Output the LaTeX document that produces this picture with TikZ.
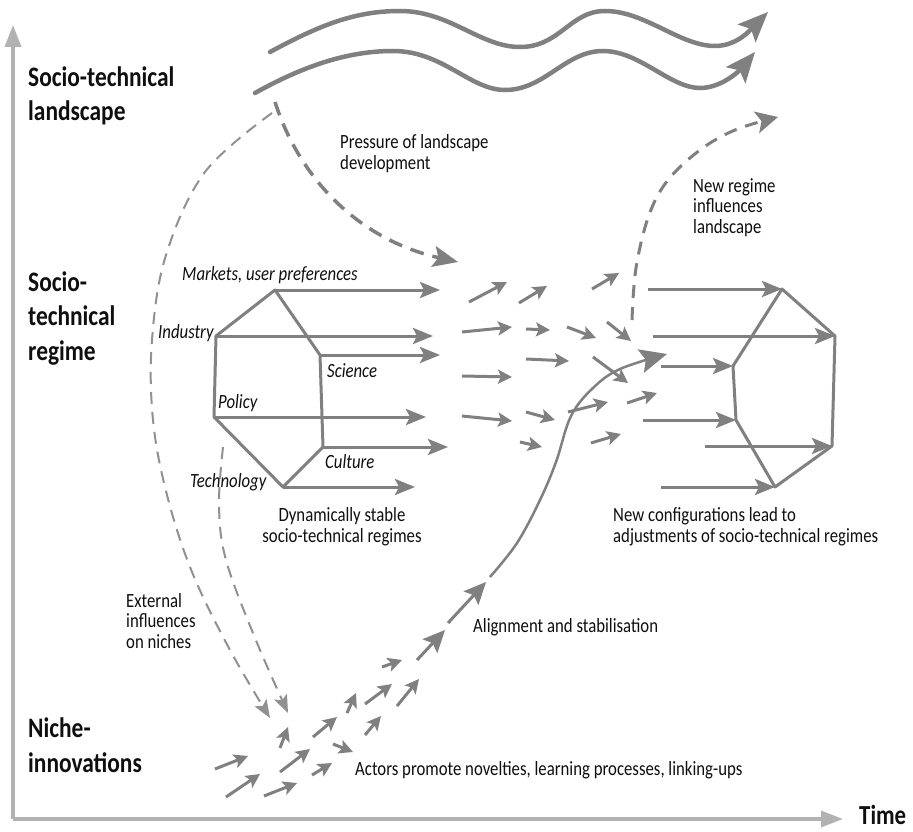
\documentclass[tikz,border=0pt]{standalone}
\usepackage{fontspec}
\setmainfont{Carlito}[FakeStretch=0.83]
\usetikzlibrary{arrows.meta}
\definecolor{ln}{RGB}{128,128,128}
\definecolor{lnl}{RGB}{145,145,145}
\definecolor{ax}{RGB}{178,178,178}
\definecolor{tx}{RGB}{15,15,15}
\begin{document}
\begin{tikzpicture}[x=1pt,y=-1pt,
  head/.style={font=\fontsize{28.2}{34.5}\selectfont\bfseries, text=tx, align=left, anchor=base west, inner sep=0pt},
  timelbl/.style={font=\fontsize{27.5}{30}\selectfont\bfseries, text=tx, anchor=base west, inner sep=0pt},
  lbl/.style={font=\fontsize{20.2}{20.5}\selectfont, text=tx, align=left, anchor=base west, inner sep=0pt},
  ilbl/.style={lbl, font=\fontsize{20.2}{20.5}\selectfont\itshape},
  axis/.style={ax, line width=3.5pt, -{Triangle[length=22pt,width=16pt]}},
  wave/.style={ln, line width=4.5pt, line cap=round, -{Stealth[length=30pt,width=25pt,inset=6pt]}},
  reg/.style={ln, line width=3pt, -{Stealth[length=20pt,width=16pt,inset=4pt]}},
  hex/.style={ln, line width=3pt, line join=round},
  sm/.style={ln, line width=3pt, -{Stealth[length=14pt,width=14pt,inset=3pt]}},
  bigch/.style={ln, line width=3pt, -{Stealth[length=22pt,width=20pt,inset=4pt]}},
  press/.style={ln, line width=3.5pt, dash pattern=on 14pt off 9pt, -{Stealth[length=25pt,width=21pt,inset=5pt]}},
  extd/.style={lnl, line width=2pt, dash pattern=on 12pt off 8pt, -{Stealth[length=18pt,width=14pt,inset=4pt]}},
  alignarr/.style={ln, line width=2.5pt, -{Stealth[length=27pt,width=24pt,inset=5pt]}}
]
\useasboundingbox (0,0) rectangle (913,832);
\fill[white] (0,0) rectangle (913,832);

% axes
\coordinate (O) at (13,819);
\coordinate (Ytop) at (13,25);
\coordinate (Xend) at (843,819);
\draw[axis] (O) -- (Ytop);
\draw[axis] (O) -- (Xend);
\node[timelbl] (time) at (859,824) {Time};

% headings (base anchor = baseline of last line)
\node[head] (land) at (28,121) {Socio-technical\\landscape};
\node[head] (regime) at (28,360) {Socio-\\technical\\regime};
\node[head] (niche) at (28,772) {Niche-\\innovations};

% landscape waves
\draw[wave] (270,52) .. controls (320,25) and (355,11) .. (400,11)
  .. controls (450,11) and (480,47) .. (520,47)
  .. controls (560,47) and (570,11) .. (605,11)
  .. controls (645,11) and (680,46) .. (715,46)
  .. controls (738,46) and (752,28) .. (768,12);
\draw[wave] (255,93) .. controls (300,68) and (345,51) .. (393,51)
  .. controls (443,51) and (470,90) .. (505,90)
  .. controls (545,90) and (565,51) .. (603,51)
  .. controls (640,51) and (670,88) .. (700,88)
  .. controls (722,88) and (740,70) .. (755,52);

% pressure of landscape
\draw[press] (275,102) .. controls (300,180) and (360,240) .. (458,262);
\node[lbl] (press) at (340,169) {Pressure of landscape\\development};

% external influences (dashed)
\draw[extd] plot[smooth, tension=0.6] coordinates {(272,113) (205,172) (166,255) (152,340) (153,420) (167,495) (192,572) (230,650) (270,718)};
\draw[extd] plot[smooth, tension=0.6] coordinates {(223,447) (219,505) (226,560) (255,638) (288,713)};
\node[lbl] (ext) at (126,648) {External\\influences\\on niches};

% left regime hexagon
\coordinate (L1) at (275,290);
\coordinate (L2) at (216,336);
\coordinate (L3) at (214,417);
\coordinate (L4) at (283,487);
\coordinate (L5) at (323,447);
\coordinate (L6) at (320,355);
\draw[hex] (L1) -- (L2) -- (L3) -- (L4) -- (L5) -- (L6) -- cycle;
\coordinate (L1e) at (440,290);
\coordinate (L2e) at (433,336);
\coordinate (L6e) at (440,355);
\coordinate (L3e) at (426,417);
\coordinate (L5e) at (448,447);
\coordinate (L4e) at (415,487);
\draw[reg] (L1) -- (L1e);
\draw[reg] (L2) -- (L2e);
\draw[reg] (L6) -- (L6e);
\draw[reg] (L3) -- (L3e);
\draw[reg] (L5) -- (L5e);
\draw[reg] (L4) -- (L4e);
\node[ilbl] (markets) at (182,280) {Markets, user preferences};
\node[ilbl] (industry) at (158,338) {Industry};
\node[ilbl] (science) at (327,377) {Science};
\node[ilbl] (policy) at (218,408) {Policy};
\node[ilbl] (culture) at (325,468) {Culture};
\node[ilbl] (technology) at (190,487) {Technology};
\node[lbl, anchor=base, align=center] (stable) at (342,542) {Dynamically stable\\socio-technical regimes};

% field of small arrows
\foreach \a/\b/\c/\d in {469/302/507/282, 519/303/547/286, 592/289/619/273,
  462/332/512/327, 526/329/550/330, 567/327/596/338, 607/322/631/341,
  526/359/569/361, 593/357/628/383, 462/376/512/377, 462/416/512/421,
  526/412/555/420, 568/412/608/402, 627/403/657/393, 520/442/542/447,
  591/443/621/434}
  \draw[sm] (\a,\b) -- (\c,\d);

% niche arrows
\foreach \a/\b/\c/\d in {382/667/402/660, 365/704/392/684, 397/706/419/679,
  347/713/356/693, 313/737/337/717, 365/735/381/716, 280/748/288/727,
  280/772/310/749, 333/744/353/752, 312/775/332/763, 215/769/248/756,
  226/797/260/774, 264/796/297/783}
  \draw[sm] (\a,\b) -- (\c,\d);
\coordinate (c1) at (417,660);
\coordinate (c2) at (445,630);
\coordinate (c3) at (448,623);
\coordinate (c4) at (486,582);
\draw[bigch] (c1) -- (c2);
\draw[bigch] (c3) -- (c4);
\node[lbl] (actors) at (355,775) {Actors promote novelties, learning processes, linking-ups};

% alignment curve
\draw[alignarr] plot[smooth, tension=0.6] coordinates {(490,577) (517,543) (540,500) (556,462) (571,416) (593,388) (620,369) (667,354)};
\node[lbl] (alignlbl) at (473,632) {Alignment and stabilisation};

% new regime influences landscape
\draw[press, line width=3pt, dash pattern=on 13pt off 9pt, -{Stealth[length=22pt,width=22pt,inset=5pt]}]
  plot[smooth, tension=0.6] coordinates {(632,320) (636,268) (649,215) (668,180) (700,150) (735,130) (778,117)};
\node[lbl] (newreg) at (693,233) {New regime\\influences\\landscape};

% right regime hexagon
\coordinate (R1) at (782,289);
\coordinate (R2) at (835,336);
\coordinate (R3) at (832,446);
\coordinate (R4) at (775,487);
\coordinate (R5) at (736,420);
\coordinate (R6) at (733,366);
\draw[hex] (R1) -- (R2) -- (R3) -- (R4) -- (R5) -- (R6) -- cycle;
\coordinate (R1s) at (648,289);
\coordinate (R2s) at (653,336);
\coordinate (R6s) at (661,366);
\coordinate (R5s) at (643,420);
\coordinate (R3s) at (705,446);
\coordinate (R4s) at (661,487);
\draw[reg] (R1s) -- (R1);
\draw[reg] (R2s) -- (R2);
\draw[reg] (R6s) -- (R6);
\draw[reg] (R5s) -- (R5);
\draw[reg] (R3s) -- (R3);
\draw[reg] (R4s) -- (R4);
\node[lbl] (newconf) at (613,542) {New configurations lead to\\adjustments of socio-technical regimes};
\end{tikzpicture}
\end{document}
